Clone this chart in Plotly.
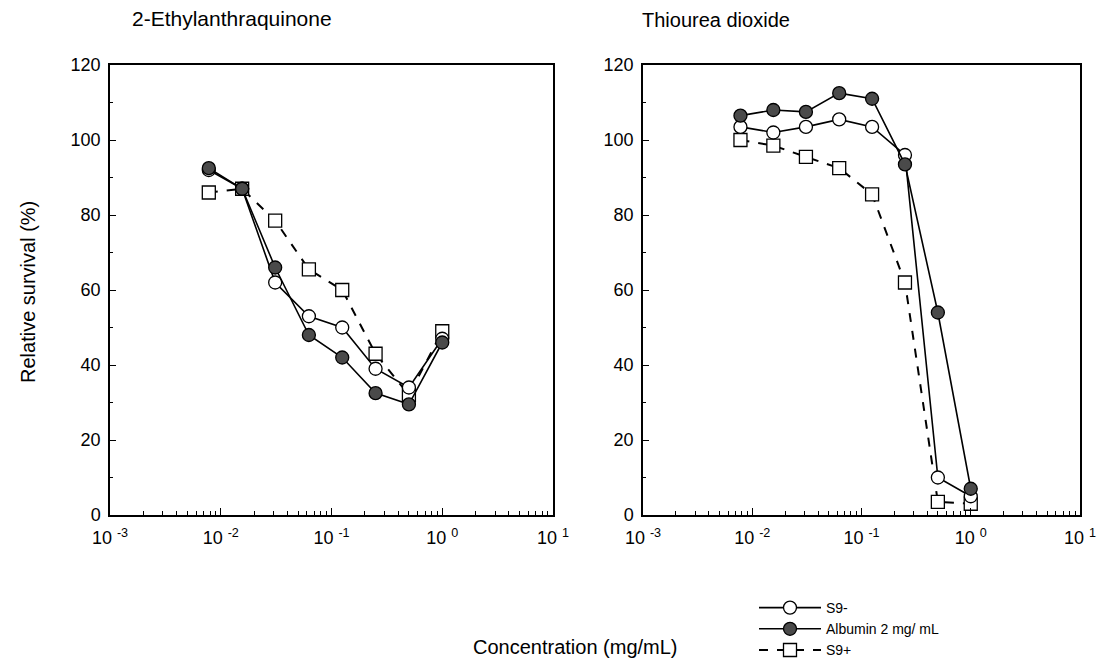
import plotly.graph_objects as go

conc = [0.0078, 0.0156, 0.031, 0.0625, 0.125, 0.25, 0.5, 1.0]

# 2-Ethylanthraquinone
eaq_s9minus = [92, 87, 62, 53, 50, 39, 34, 47]
eaq_albumin = [92.5, 87, 66, 48, 42, 32.5, 29.5, 46]
eaq_s9plus = [86, 87, 78.5, 65.5, 60, 43, 32, 49]

# Thiourea dioxide
tud_s9minus = [103.5, 102, 103.5, 105.5, 103.5, 96, 10, 5]
tud_albumin = [106.5, 108, 107.5, 112.5, 111, 93.5, 54, 7]
tud_s9plus = [100, 98.5, 95.5, 92.5, 85.5, 62, 3.5, 3]

series_names = ["S9-", "Albumin 2 mg/ mL", "S9+"]
xtick_vals = [0.001, 0.01, 0.1, 1, 10]
xtick_text = ["10 <sup>-3</sup>", "10 <sup>-2</sup>", "10 <sup>-1</sup>", "10 <sup>0</sup>", "10 <sup>1</sup>"]
ytick_vals = [0, 20, 40, 60, 80, 100, 120]

FONT = "Liberation Sans, Arial, sans-serif"

styles = [
    dict(marker=dict(symbol="circle", size=13, color="white", line=dict(color="black", width=1.3)),
         line=dict(color="black", width=1.6, dash="solid")),
    dict(marker=dict(symbol="circle", size=13, color="#4a4a4a", line=dict(color="black", width=1.3)),
         line=dict(color="black", width=1.6, dash="solid")),
    dict(marker=dict(symbol="square", size=13, color="white", line=dict(color="black", width=1.3)),
         line=dict(color="black", width=2, dash="dash")),
]

fig = go.Figure()

left = [eaq_s9minus, eaq_albumin, eaq_s9plus]
right = [tud_s9minus, tud_albumin, tud_s9plus]

order = [2, 0, 1]
for i in order:
    fig.add_trace(go.Scatter(x=conc, y=left[i], mode="lines+markers", name=series_names[i],
                             xaxis="x", yaxis="y", showlegend=False, **styles[i]))
for i in order:
    fig.add_trace(go.Scatter(x=conc, y=right[i], mode="lines+markers", name=series_names[i],
                             xaxis="x2", yaxis="y2", showlegend=False, **styles[i]))
for i in range(3):
    fig.add_trace(go.Scatter(x=[None], y=[None], mode="lines+markers", name=series_names[i],
                             xaxis="x", yaxis="y", showlegend=True, **styles[i]))

minor_x = [k * 10 ** e for e in (-3, -2, -1, 0) for k in range(2, 10)]

def xaxis(domain, anchor):
    return dict(domain=domain, anchor=anchor, type="log", range=[-3, 1], automargin=False,
                tickvals=xtick_vals, ticktext=xtick_text, ticks="inside", ticklen=7,
                tickcolor="black", tickfont=dict(size=18, color="black", family=FONT),
                ticklabelstandoff=6,
                showline=True, linecolor="black", linewidth=1.5, mirror=True,
                showgrid=False, zeroline=False,
                minor=dict(tickvals=minor_x, ticks="inside", ticklen=4, tickcolor="black", showgrid=False))

def yaxis(domain, anchor):
    return dict(domain=domain, anchor=anchor, range=[0, 120], tickvals=ytick_vals, automargin=False,
                ticks="inside", ticklen=6, tickcolor="black",
                tickfont=dict(size=18, color="black", family=FONT),
                ticklabelstandoff=4,
                showline=True, linecolor="black", linewidth=1.5, mirror=True,
                showgrid=False, zeroline=False,
                minor=dict(dtick=10, ticks="inside", ticklen=3, tickcolor="black", showgrid=False))

ydom = [1 - 515 / 666, 1 - 65 / 666]
fig.update_layout(
    width=1113, height=666,
    margin=dict(l=0, r=0, t=0, b=0),
    paper_bgcolor="white", plot_bgcolor="white",
    font=dict(family=FONT, color="black"),
    xaxis=xaxis([110 / 1113, 553 / 1113], "y"),
    yaxis=yaxis(ydom, "x"),
    xaxis2=xaxis([643 / 1113, 1080 / 1113], "y2"),
    yaxis2=yaxis(ydom, "x2"),
    legend=dict(x=754 / 1113, y=0, xanchor="left", yanchor="bottom",
                font=dict(size=14, family=FONT, color="black"),
                tracegroupgap=0, itemwidth=62, bgcolor="rgba(0,0,0,0)"),
    annotations=[
        dict(text="2-Ethylanthraquinone", x=130 / 1113, y=1 - 19 / 666, xref="paper", yref="paper",
             xanchor="left", yanchor="middle", showarrow=False, font=dict(size=21, family=FONT)),
        dict(text="Thiourea dioxide", x=640 / 1113, y=1 - 20 / 666, xref="paper", yref="paper",
             xanchor="left", yanchor="middle", showarrow=False, font=dict(size=20, family=FONT)),
        dict(text="Relative survival (%)", x=28 / 1113, y=1 - 292 / 666, xref="paper", yref="paper",
             xanchor="center", yanchor="middle", textangle=-90, showarrow=False,
             font=dict(size=20, family=FONT)),
        dict(text="Concentration (mg/mL)", x=575 / 1113, y=1 - 647 / 666, xref="paper", yref="paper",
             xanchor="center", yanchor="middle", showarrow=False, font=dict(size=20, family=FONT)),
    ],
)

fig.write_html("out.html")
